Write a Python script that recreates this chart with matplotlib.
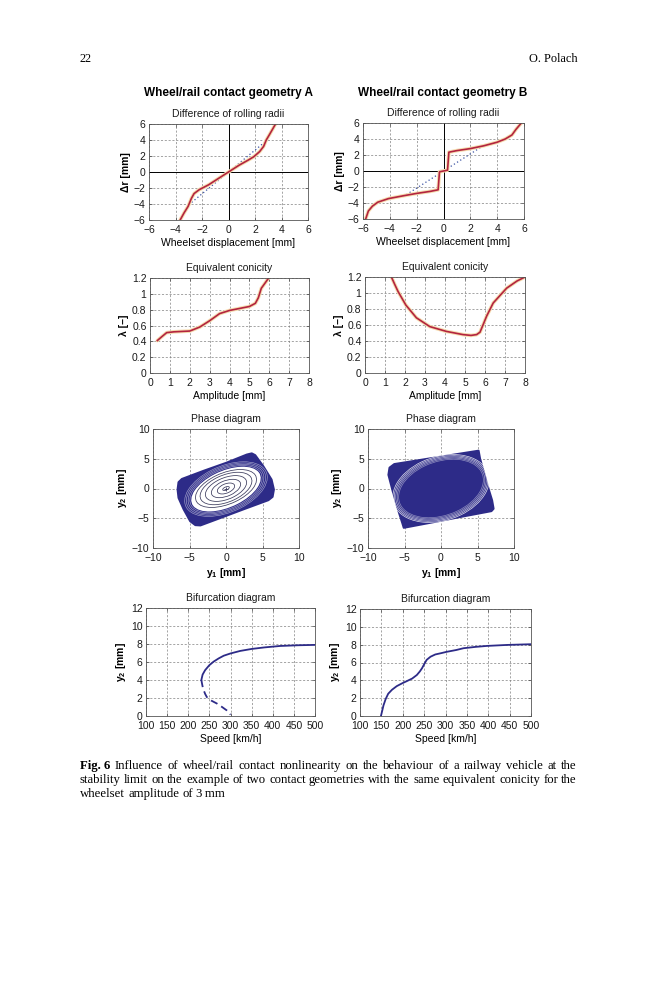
import matplotlib
matplotlib.use('Agg')
from matplotlib import pyplot as plt
from matplotlib.patches import Ellipse, Polygon
from matplotlib.ticker import FuncFormatter

plt.rcParams['font.family'] = ['Liberation Sans', 'DejaVu Sans']
plt.rcParams['mathtext.fontset'] = 'custom'
plt.rcParams['mathtext.rm'] = 'Liberation Sans'
plt.rcParams['mathtext.it'] = 'Liberation Sans:italic'
plt.rcParams['mathtext.bf'] = 'Liberation Sans:bold'

RED = '#b3243f'
HALO = '#f6dcae'
NAVY = '#2d2b88'
ORBIT = '#3a3a5c'
DOTS = '#3b52a3'

# --- difference of rolling radii (displacement [mm] -> dr [mm]) ---
dr_a_y = [-3.65, -3.35, -3.05, -2.8, -2.6, -2.2, -1.5, -0.8, 0.0, 0.8, 1.5, 1.9, 2.35, 2.65, 2.85, 3.1, 3.55]
dr_a_r = [-6.0, -5.1, -4.3, -3.3, -2.7, -2.2, -1.6, -0.85, 0.0, 0.85, 1.5, 1.9, 2.55, 3.2, 4.0, 4.7, 6.0]
dr_b_y = [-5.8, -5.6, -5.3, -4.9, -4.1, -3.0, -2.0, -1.0, -0.4, -0.3, 0.3, 0.4, 1.0, 2.0, 3.0, 4.0, 4.6, 5.1, 5.4, 5.8]
dr_b_r = [-6.0, -5.0, -4.4, -3.9, -3.45, -3.1, -2.8, -2.55, -2.35, -0.1, 0.1, 2.35, 2.55, 2.8, 3.15, 3.6, 4.0, 4.5, 5.2, 6.0]
lin_y = [-3.0, 3.0]
lin_a_r = [-4.1, 4.1]
lin_b_r = [-3.2, 3.2]

# --- equivalent conicity ---
con_a_amp = [0.37, 0.6, 0.84, 1.2, 2.0, 2.5, 3.0, 3.5, 4.0, 4.5, 5.0, 5.3, 5.45, 5.6, 5.8, 5.97]
con_a_lam = [0.41, 0.46, 0.51, 0.52, 0.53, 0.58, 0.66, 0.75, 0.79, 0.815, 0.84, 0.88, 0.95, 1.07, 1.14, 1.2]
con_b_amp = [1.32, 1.5, 1.65, 2.04, 2.57, 3.24, 4.07, 4.9, 5.3, 5.58, 5.75, 5.9, 6.08, 6.41, 7.08, 7.6, 8.0]
con_b_lam = [1.2, 1.1, 1.02, 0.85, 0.69, 0.58, 0.52, 0.48, 0.47, 0.48, 0.51, 0.6, 0.71, 0.875, 1.06, 1.15, 1.2]

# --- phase diagrams: outer envelope of the trajectory (y1, y2) ---
env_a_y1 = [-6.04, -3.0, 0.0, 2.85, 3.53, 4.0, 5.1, 6.24, 6.56, 6.38, 5.8, 2.5, -1.0, -3.5, -4.2, -4.9, -5.8, -6.5, -6.63, -6.5]
env_a_y2 = [1.6, 3.0, 4.3, 5.7, 5.9, 5.6, 3.75, 1.5, -0.17, -1.4, -1.96, -3.45, -5.06, -6.2, -6.15, -5.5, -3.5, -1.57, -0.17, 1.06]
env_b_y1 = [-6.4, -2.0, 2.0, 5.15, 5.35, 5.9, 6.5, 7.0, 7.2, 6.9, 3.0, -1.0, -5.1, -5.3, -5.9, -6.6, -7.2, -7.05]
env_b_y2 = [4.1, 4.96, 5.74, 6.35, 5.0, 2.6, 0.0, -2.0, -3.4, -3.8, -4.7, -5.65, -6.6, -5.8, -3.5, -0.5, 2.3, 3.5]
# decaying orbits inside A (full width, full height)
orb_a_w = [1.0, 2.6, 4.4, 6.2, 7.8, 9.2]
orb_a_h = [0.5, 1.5, 2.5, 3.5, 4.4, 5.1]
hole_a = (10.6, 5.9)
streak_a_w = [11.0, 11.5, 12.0, 12.5]
streak_a_h = [6.3, 6.7, 7.1, 7.5]
# limit cycle band inside B
ring_b_w = [12.4, 12.8, 13.2, 13.6, 14.0]
ring_b_h = [8.8, 9.2, 9.6, 10.0, 10.4]

# --- bifurcation diagrams (speed [km/h] -> y2 [mm]) ---
bif_a_v = [231, 234, 240, 250, 260, 272, 284, 300, 323, 350, 380, 417, 460, 500]
bif_a_y = [4.0, 4.6, 5.1, 5.65, 6.04, 6.4, 6.7, 6.95, 7.23, 7.45, 7.62, 7.78, 7.86, 7.9]
bif_a_unst_v = [231, 233, 235, 240, 244, 255, 268, 280, 291, 297, 300]
bif_a_unst_y = [4.0, 3.5, 3.05, 2.45, 2.1, 1.7, 1.38, 1.0, 0.63, 0.35, 0.15]
bif_b_v = [149, 152, 155, 160, 166, 175, 186, 200, 209, 222, 233, 240, 245, 250, 256, 265, 276, 290, 303, 325, 342, 370, 397, 444, 500]
bif_b_y = [0.0, 0.6, 1.2, 1.9, 2.5, 2.95, 3.35, 3.7, 3.9, 4.2, 4.6, 5.0, 5.35, 5.8, 6.3, 6.65, 6.9, 7.05, 7.2, 7.4, 7.6, 7.75, 7.86, 7.97, 8.05]

W, H = 659, 1000


def box(l, t, r, b):
    # pixel box on the page -> figure fraction
    return [l / W, 1 - b / H, (r - l) / W, (b - t) / H]


fmt = FuncFormatter(lambda v, p: f'{v:g}'.replace('-', '\u2212'))


def style(ax, xlim, ylim, xticks, yticks, title):
    ax.set_xlim(xlim)
    ax.set_ylim(ylim)
    ax.set_xticks(xticks)
    ax.set_yticks(yticks)
    ax.xaxis.set_major_formatter(fmt)
    ax.yaxis.set_major_formatter(fmt)
    ax.tick_params(direction='in', length=2.5, width=0.5, top=True, right=True,
                   labelsize=7.5, pad=2.5, color='#444444', labelcolor='#1a1a1a')
    ax.tick_params(axis='x', pad=3.5)
    ax.grid(True, ls=(0, (3, 2.5)), lw=0.5, color='#808080')
    ax.set_axisbelow(True)
    for s in ax.spines.values():
        s.set_linewidth(0.6)
        s.set_color('#555555')
    ax.set_title(title, fontsize=7.5, pad=5, color='#1a1a1a')


def red_curve(ax, x, y):
    ax.plot(x, y, color=HALO, lw=2.6, solid_capstyle='round')
    ax.plot(x, y, color=RED, lw=1.2)


fig = plt.figure(figsize=(W / 100, H / 100), dpi=100)

fig.text(229 / W, 1 - 93 / H, 'Wheel/rail contact geometry A', ha='center', va='center',
         fontsize=8.5, fontweight='bold')
fig.text(443 / W, 1 - 93 / H, 'Wheel/rail contact geometry B', ha='center', va='center',
         fontsize=8.5, fontweight='bold')

# row 1: difference of rolling radii
for pos, yy, rr, lin in [((149, 124, 308, 220), dr_a_y, dr_a_r, lin_a_r),
                         ((363, 123, 524, 219), dr_b_y, dr_b_r, lin_b_r)]:
    ax = fig.add_axes(box(*pos))
    style(ax, (-6, 6), (-6, 6), range(-6, 7, 2), range(-6, 7, 2), 'Difference of rolling radii')
    ax.axhline(0, color='k', lw=0.7)
    ax.axvline(0, color='k', lw=0.7)
    ax.plot(lin_y, lin, ls=(0, (1, 2)), color=DOTS, lw=0.9)
    red_curve(ax, yy, rr)
    ax.set_xlabel('Wheelset displacement [mm]', fontsize=7.5, labelpad=2)
    ax.set_ylabel('\u0394r [mm]', fontsize=7.5, fontweight='bold', labelpad=2)

# row 2: equivalent conicity
for pos, aa, ll in [((150, 278, 309, 373), con_a_amp, con_a_lam),
                    ((365, 277, 525, 373), con_b_amp, con_b_lam)]:
    ax = fig.add_axes(box(*pos))
    style(ax, (0, 8), (0, 1.2), range(0, 9), [0, 0.2, 0.4, 0.6, 0.8, 1.0, 1.2], 'Equivalent conicity')
    red_curve(ax, aa, ll)
    ax.set_xlabel('Amplitude [mm]', fontsize=7.5, labelpad=2)
    ax.set_ylabel('\u03bb [\u2013]', fontsize=7.5, fontweight='bold', labelpad=2)

# row 3: phase diagrams
ax_pa = fig.add_axes(box(153, 429, 299, 548))
ax_pb = fig.add_axes(box(368, 429, 514, 548))
for ax in (ax_pa, ax_pb):
    style(ax, (-10, 10), (-10, 10), range(-10, 11, 5), range(-10, 11, 5), 'Phase diagram')
    ax.set_xlabel(r'$\mathbf{y_1}$ [mm]', fontsize=7.5, fontweight='bold', labelpad=2)
    ax.set_ylabel(r'$\mathbf{y_2}$ [mm]', fontsize=7.5, fontweight='bold', labelpad=2)

ax_pa.add_patch(Polygon(list(zip(env_a_y1, env_a_y2)), closed=True, fc=NAVY, ec=NAVY,
                        lw=1.5, joinstyle='round'))
for w, h in zip(streak_a_w, streak_a_h):
    ax_pa.add_patch(Ellipse((0, -0.1), w, h, angle=32, fill=False, ec='white', lw=0.45, alpha=0.55))
ax_pa.add_patch(Ellipse((0, -0.1), hole_a[0], hole_a[1], angle=32, fc='white', ec='none'))
for w, h in zip(orb_a_w, orb_a_h):
    ax_pa.add_patch(Ellipse((0, 0), w, h, angle=30, fill=False, ec=ORBIT, lw=0.55))
ax_pa.plot([0], [0], marker='+', color=ORBIT, ms=3, mew=0.6)

ax_pb.add_patch(Polygon(list(zip(env_b_y1, env_b_y2)), closed=True, fc=NAVY, ec=NAVY,
                        lw=1.5, joinstyle='round'))
for i, (w, h) in enumerate(zip(ring_b_w, ring_b_h)):
    ax_pb.add_patch(Ellipse((0, 0), w, h, angle=30, fill=False, ec='white',
                            lw=0.5, alpha=0.45 + 0.1 * i))

# row 4: bifurcation diagrams
ax_ba = fig.add_axes(box(146, 608, 315, 716))
ax_bb = fig.add_axes(box(360, 609, 531, 716))
for ax in (ax_ba, ax_bb):
    style(ax, (100, 500), (0, 12), range(100, 501, 50), range(0, 13, 2), 'Bifurcation diagram')
    ax.set_xlabel('Speed [km/h]', fontsize=7.5, labelpad=2)
    ax.set_ylabel(r'$\mathbf{y_2}$ [mm]', fontsize=7.5, fontweight='bold', labelpad=2)
ax_ba.plot(bif_a_v, bif_a_y, color=NAVY, lw=1.3)
ax_ba.plot(bif_a_unst_v, bif_a_unst_y, color=NAVY, lw=1.3, ls=(0, (4, 2.5)))
ax_bb.plot(bif_b_v, bif_b_y, color=NAVY, lw=1.3)

# page header
fig.text(80 / W, 1 - 62 / H, '22', fontsize=8.8, family='Liberation Serif', va='baseline')
fig.text(578 / W, 1 - 62 / H, 'O. Polach', fontsize=8.8, family='Liberation Serif',
         va='baseline', ha='right')

# caption, justified like the book page
renderer = fig.canvas.get_renderer()
CAP_SIZE = 9.2


def caption_line(words, y, x0=80, x1=577, justify=True):
    texts = []
    for w, wt in words:
        t = fig.text(0, 1 - y / H, w, fontsize=CAP_SIZE, family='Liberation Serif',
                     fontweight=wt, va='baseline')
        texts.append(t)
    widths = [t.get_window_extent(renderer).width for t in texts]
    if justify:
        gap = (x1 - x0 - sum(widths)) / (len(texts) - 1)
    else:
        gap = CAP_SIZE * 0.25 * 100 / 72
    x = x0
    for t, wd in zip(texts, widths):
        t.set_x(x / W)
        x += wd + gap


line1 = [('Fig. 6', 'bold')] + [(w, 'normal') for w in
         'Influence of wheel/rail contact nonlinearity on the behaviour of a railway vehicle at the'.split()]
line2 = [(w, 'normal') for w in
         'stability limit on the example of two contact geometries with the same equivalent conicity for the'.split()]
line3 = [(w, 'normal') for w in 'wheelset amplitude of 3\u2009mm'.split(' ')]
caption_line(line1, 769)
caption_line(line2, 783)
caption_line(line3, 797, justify=False)

fig.savefig('out.png', dpi=100)
